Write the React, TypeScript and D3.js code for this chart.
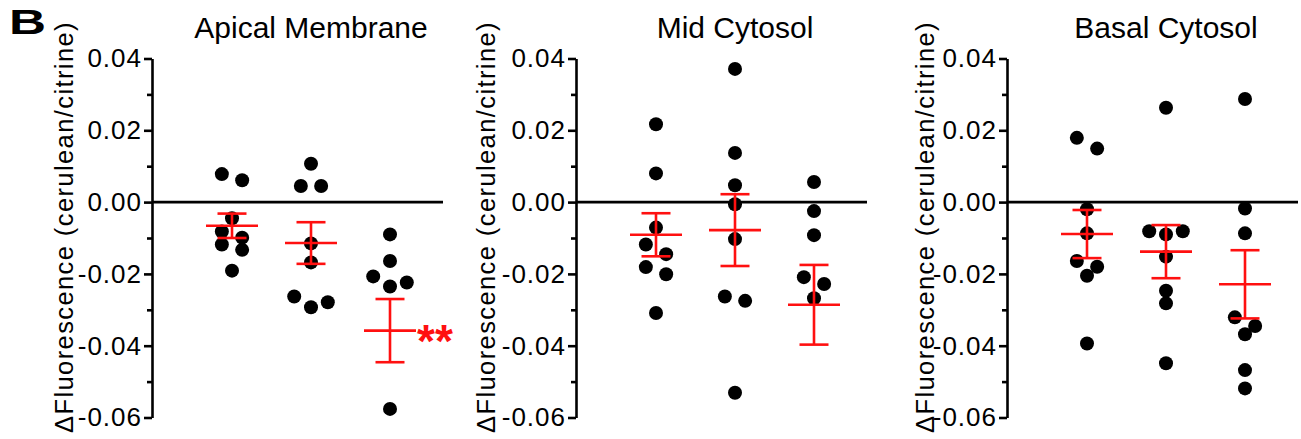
import { useEffect, useRef } from "react";
import { axisLeft, scaleLinear, scalePoint, select, ScaleLinear } from "d3";

// one title per panel
const panelTitles = ["Apical Membrane", "Mid Cytosol", "Basal Cytosol"];
const columns = ["c1", "c2", "c3"];

// individual cells
const apicalPoints = [
  [0.0078, 0.0061, -0.0045, -0.0082, -0.0099, -0.0118, -0.0133, -0.0191],
  [0.0107, 0.0045, 0.0045, -0.0115, -0.0168, -0.0263, -0.0279, -0.0293],
  [-0.009, -0.0164, -0.0207, -0.0224, -0.0235, -0.0576],
];
const midPoints = [
  [0.0217, 0.008, -0.0071, -0.0118, -0.0145, -0.0181, -0.0201, -0.0309],
  [0.0371, 0.0137, 0.0047, -0.0006, -0.0103, -0.0263, -0.0275, -0.0531],
  [0.0056, -0.0025, -0.0092, -0.0209, -0.0228, -0.0268],
];
const basalPoints = [
  [0.0179, 0.0149, -0.002, -0.0087, -0.0164, -0.018, -0.0205, -0.0394],
  [0.0263, -0.0081, -0.0081, -0.009, -0.0152, -0.0247, -0.0282, -0.0449],
  [0.0287, -0.0018, -0.0087, -0.0321, -0.0345, -0.0368, -0.0468, -0.0519],
];

// mean +/- sem
const apicalMeans = [-0.0066, -0.0114, -0.0358];
const apicalSems = [0.0034, 0.0058, 0.0088];
const midMeans = [-0.0091, -0.0078, -0.0286];
const midSems = [0.006, 0.01, 0.0111];
const basalMeans = [-0.0089, -0.0138, -0.0229];
const basalSems = [0.0067, 0.0074, 0.0095];

const apicalMarks = ["", "", "**"];
const noMarks = ["", "", ""];

const yTicks = [0.04, 0.02, 0, -0.02, -0.04, -0.06];
const yMinorTicks = [0.03, 0.01, -0.01, -0.03, -0.05];
const yLabel = "\u0394Fluorescence (cerulean/citrine)";

const panels = [
  { title: panelTitles[0], points: apicalPoints, means: apicalMeans, sems: apicalSems, marks: apicalMarks },
  { title: panelTitles[1], points: midPoints, means: midMeans, sems: midSems, marks: noMarks },
  { title: panelTitles[2], points: basalPoints, means: basalMeans, sems: basalSems, marks: noMarks },
];

// layout
const axisX = [152, 576, 1007];
const labelOffset = [-79.5, -81, -73];
const RED = "#ff1010";
const FONT = "'Liberation Sans', Arial, sans-serif";
const R = 7;

const y = scaleLinear().domain([-0.06, 0.04]).range([417.5, 58.5]);
const x = scalePoint<string>().domain(columns).range([80, 238]);

// Prism-like scatter: dots close in y share a row and are spread sideways
function spread(values: number[], scale: ScaleLinear<number, number>) {
  const sorted = [...values].sort((a, b) => b - a);
  const rows: number[][] = [];
  let row: number[] = [];
  let start = 0;
  sorted.forEach((v) => {
    const py = scale(v);
    if (row.length && py - start < 12 && row.length < 3) {
      row.push(v);
    } else {
      if (row.length) rows.push(row);
      row = [v];
      start = py;
    }
  });
  if (row.length) rows.push(row);
  const offsets: Record<number, number[]> = {
    1: [0],
    2: [-1.45 * R, 1.45 * R],
    3: [-2.4 * R, 2.4 * R, 0],
  };
  return rows.flatMap((r) => r.map((v, i) => ({ v, dx: offsets[r.length][i] })));
}

function YAxis() {
  const major = useRef<SVGGElement>(null);
  const minor = useRef<SVGGElement>(null);

  useEffect(() => {
    if (major.current) {
      const g = select(major.current);
      g.call(
        axisLeft(y)
          .tickValues(yTicks)
          .tickSize(8)
          .tickSizeOuter(0)
          .tickPadding(2)
          .tickFormat((d: any) => (+d).toFixed(2))
      );
      g.attr("font-size", null).attr("font-family", null);
      g.select(".domain").attr("stroke-width", 2.6);
      g.selectAll(".tick line").attr("stroke-width", 2.6);
      g.selectAll(".tick text")
        .attr("font-size", 26)
        .attr("font-family", FONT)
        .attr("fill", "#000")
        .attr("letter-spacing", 1);
    }
    if (minor.current) {
      const g = select(minor.current);
      g.call(axisLeft(y).tickValues(yMinorTicks).tickSize(5).tickFormat(() => ""));
      g.select(".domain").remove();
      g.selectAll(".tick line").attr("stroke-width", 2.6);
    }
  }, []);

  return (
    <>
      <g ref={minor} />
      <g ref={major} />
    </>
  );
}

function Panel({ index }: { index: number }) {
  const p = panels[index];
  const x0 = axisX[index];
  return (
    <g transform={`translate(${x0},0)`}>
      <text
        x={x("c2")}
        y={38}
        textAnchor="middle"
        fontSize={30}
        fontFamily={FONT}
      >
        {p.title}
      </text>
      <text
        transform={`translate(${labelOffset[index]},227) rotate(-90)`}
        textAnchor="middle"
        fontSize={25.5}
        fontFamily={FONT}
        letterSpacing={1.4}
      >
        {yLabel}
      </text>
      <line x1={0} x2={291} y1={y(0)} y2={y(0)} stroke="#000" strokeWidth={2.8} />
      <YAxis />
      {columns.map((c, ci) =>
        spread(p.points[ci], y).map((d, i) => (
          <circle key={`${c}-${i}`} cx={(x(c) ?? 0) + d.dx} cy={y(d.v)} r={R} fill="#000" />
        ))
      )}
      {columns.map((c, ci) => {
        const cx = x(c) ?? 0;
        const m = p.means[ci];
        const s = p.sems[ci];
        return (
          <g key={`err-${c}`} stroke={RED} strokeWidth={2.6} fill="none">
            <line x1={cx} x2={cx} y1={y(m + s)} y2={y(m - s)} />
            <line x1={cx - 26} x2={cx + 26} y1={y(m)} y2={y(m)} />
            <line x1={cx - 14.5} x2={cx + 14.5} y1={y(m + s)} y2={y(m + s)} />
            <line x1={cx - 14.5} x2={cx + 14.5} y1={y(m - s)} y2={y(m - s)} />
            {p.marks[ci] && (
              <text
                x={cx + 27}
                y={y(m)}
                dy="0.57em"
                stroke="none"
                fill={RED}
                fontSize={46}
                fontWeight="bold"
                fontFamily={FONT}
              >
                {p.marks[ci]}
              </text>
            )}
          </g>
        );
      })}
    </g>
  );
}

export default function App() {
  return (
    <svg
      width={1301}
      height={439}
      style={{ position: "absolute", left: 0, top: 0, background: "#fff" }}
    >
      <text
        x={9}
        y={34}
        fontSize={35}
        fontWeight="bold"
        fontFamily={FONT}
        textLength={37}
        lengthAdjust="spacingAndGlyphs"
      >
        B
      </text>
      {panels.map((_, i) => (
        <Panel key={i} index={i} />
      ))}
    </svg>
  );
}
